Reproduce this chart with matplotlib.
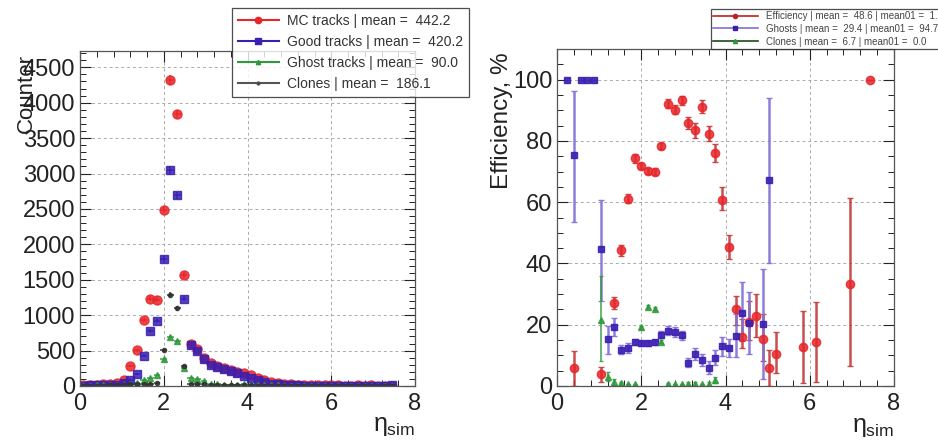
import numpy as np
import matplotlib
matplotlib.use('Agg')
import matplotlib.pyplot as plt
from matplotlib.lines import Line2D
from matplotlib.ticker import MultipleLocator

plt.rcParams['font.family'] = ['Liberation Sans', 'DejaVu Sans']
plt.rcParams['mathtext.fontset'] = 'custom'
plt.rcParams['mathtext.rm'] = 'Liberation Sans'
plt.rcParams['mathtext.it'] = 'Liberation Sans'

# Left panel: counts per eta bin (bin width 0.16)
eta_bins = [0.08, 0.24, 0.40, 0.56, 0.72, 0.88, 1.04, 1.20, 1.36, 1.52, 1.68, 1.84,
            2.00, 2.16, 2.32, 2.48, 2.64, 2.80, 2.96, 3.12, 3.28, 3.44, 3.60, 3.76,
            3.92, 4.08, 4.24, 4.40, 4.56, 4.72, 4.88, 5.04, 5.20, 5.36, 5.52, 5.68,
            5.84, 6.00, 6.16, 6.32, 6.48, 6.64, 6.80, 6.96, 7.12, 7.28, 7.44]
mc_tracks = [10, 12, 15, 25, 35, 45, 85, 285, 505, 935, 1235, 1215,
             2490, 4320, 3840, 1570, 600, 525, 400, 320, 280, 255, 220, 195,
             180, 160, 115, 85, 60, 40, 30, 25, 20, 15, 12, 10,
             12, 8, 10, 5, 3, 8, 6, 10, 5, 2, 3]
good_tracks = [5, 8, 10, 12, 15, 20, 45, 90, 170, 430, 780, 920,
               1790, 3050, 2690, 1230, 580, 500, 375, 300, 265, 245, 210, 180,
               140, 110, 80, 55, 35, 25, 15, 10, 8, 6, 5, 4,
               5, 3, 4, 2, 1, 3, 2, 4, 2, 1, 8]
ghost_tracks = [5, 6, 8, 8, 10, 12, 20, 25, 40, 80, 110, 150,
                375, 685, 630, 250, 115, 95, 65, 30, 25, 20, 15, 20,
                25, 20, 15, 15, 10, 8, 5, 3, 2, 1, 1, 1,
                0, 0, 0, 0, 0, 0, 0, 0, 0, 0, 0]
clone_tracks = [2, 3, 4, 5, 8, 10, 20, 25, 30, 35, 30, 40,
                505, 1290, 1095, 282, 30, 25, 25, 20, 20, 20, 20, 15,
                10, 8, 5, 4, 3, 2, 1, 1, 0, 0, 0, 0,
                0, 0, 0, 0, 0, 0, 0, 0, 0, 0, 0]
left_labels = ['MC tracks | mean =  442.2', 'Good tracks | mean =  420.2',
               'Ghost tracks | mean =  90.0', 'Clones | mean =  186.1']

# Right panel: efficiency / ghost / clone rates in %
eff_x = [0.40, 1.04, 1.36, 1.52, 1.68, 1.84, 2.00, 2.16, 2.32, 2.48, 2.64, 2.80,
         2.96, 3.12, 3.28, 3.44, 3.60, 3.76, 3.92, 4.08, 4.24, 4.40, 4.56, 4.72,
         4.88, 5.04, 5.20, 5.84, 6.16, 6.96, 7.44]
eff_y = [5.8, 3.8, 27.2, 44.3, 61.1, 74.3, 71.7, 70.3, 70.0, 78.4, 92.1, 90.2,
         93.2, 85.8, 83.4, 91.2, 82.4, 76.0, 60.8, 45.4, 25.0, 15.9, 20.9, 22.9,
         15.5, 5.8, 10.6, 12.6, 14.4, 33.4, 100.0]
eff_lo = [5.8, 2.5, 2.0, 1.8, 1.5, 1.5, 1.0, 1.0, 1.0, 1.0, 1.5, 1.5,
          1.5, 2.0, 2.5, 2.0, 2.5, 3.0, 3.5, 4.0, 5.0, 3.5, 6.0, 7.0,
          7.5, 5.8, 6.5, 11.5, 13.0, 27.0, 0.0]
eff_hi = [5.5, 2.5, 2.0, 1.8, 1.5, 1.5, 1.0, 1.0, 1.0, 1.0, 1.5, 1.5,
          1.5, 2.0, 2.5, 2.0, 2.5, 3.0, 4.0, 4.0, 4.5, 6.0, 7.0, 7.0,
          8.0, 6.0, 7.0, 12.0, 13.0, 28.0, 0.0]

ghost_x = [0.24, 0.40, 0.56, 0.72, 0.88, 1.04, 1.20, 1.36, 1.52, 1.68, 1.84, 2.00,
           2.16, 2.32, 2.48, 2.64, 2.80, 2.96, 3.12, 3.28, 3.44, 3.60, 3.76, 3.92,
           4.08, 4.24, 4.40, 4.56, 4.88, 5.04]
ghost_y = [100.0, 75.4, 100.0, 100.0, 100.0, 44.8, 15.5, 19.2, 11.9, 12.4, 14.3, 14.0,
           14.0, 14.3, 16.8, 18.0, 17.6, 16.6, 7.6, 10.4, 8.6, 6.0, 9.3, 12.9,
           12.4, 16.4, 23.8, 20.6, 20.3, 67.1]
ghost_lo = [0, 22, 0, 0, 0, 17, 5, 3, 1.5, 1.5, 1, 0.8,
            0.8, 0.8, 1.2, 1.5, 1.5, 1.5, 1.5, 2, 2, 2, 2.5, 3,
            3, 7, 9, 10, 18, 27]
ghost_hi = [0, 21, 0, 0, 0, 16, 4, 3, 1.5, 1.5, 1, 0.8,
            0.8, 0.8, 1.2, 1.5, 1.5, 1.5, 1.5, 2, 2, 2, 2.5, 3,
            3, 7, 10, 10, 18, 27]

clone_x = [1.04, 1.20, 1.36, 1.52, 1.68, 1.84, 2.00, 2.16, 2.32, 2.48, 2.64, 2.80,
           2.96, 3.12, 3.28, 3.44, 3.60, 3.76]
clone_y = [21.5, 3.0, 1.2, 0.9, 0.5, 0.5, 19.1, 25.8, 25.2, 14.5, 0.6, 0.5,
           0.5, 0.8, 0.8, 0.5, 0.7, 2.0]
clone_lo = [13.5, 1.5, 1.0, 0.5, 0.3, 0.3, 0.5, 0.5, 0.5, 0.5, 0.3, 0.3,
            0.3, 0.5, 0.5, 0.3, 0.5, 1.0]
clone_hi = [14.5, 1.5, 1.0, 0.5, 0.3, 0.3, 0.5, 0.5, 0.5, 0.5, 0.3, 0.3,
            0.3, 0.5, 0.5, 0.3, 0.5, 1.0]
right_labels = ['Efficiency | mean =  48.6 | mean01 =  1.2',
                'Ghosts | mean =  29.4 | mean01 =  94.7',
                'Clones | mean =  6.7 | mean01 =  0.0']

red = '#e8262a'
blue = '#3a1fb0'
lblue = '#8070d8'
green = '#2f9a3a'
dark = '#303030'

fig = plt.figure(figsize=(9.38, 4.46), dpi=100)
W, H = 938, 446
ax1 = fig.add_axes([80 / W, 1 - 386 / H, 335 / W, 335 / H])
ax2 = fig.add_axes([557 / W, 1 - 386 / H, 337 / W, 337 / H])


def root_style(ax, ymax, ymajor, yminor):
    ax.set_xlim(0, 8)
    ax.set_ylim(0, ymax)
    ax.xaxis.set_major_locator(MultipleLocator(2))
    ax.xaxis.set_minor_locator(MultipleLocator(0.4))
    ax.yaxis.set_major_locator(MultipleLocator(ymajor))
    ax.yaxis.set_minor_locator(MultipleLocator(yminor))
    ax.tick_params(which='both', direction='in', top=True, right=True,
                   labelsize=17, colors='#222222')
    ax.tick_params(axis='x', pad=5)
    ax.tick_params(which='major', length=8, width=0.8)
    ax.tick_params(which='minor', length=4, width=0.7)
    ax.grid(True, which='major', linestyle=(0, (3, 3)), color='#aaaaaa', linewidth=0.7)
    for s in ax.spines.values():
        s.set_color('#555555')
        s.set_linewidth(0.9)
    ax.set_axisbelow(True)


def axis_labels(ax, ylabel, yx, ysize):
    ax.set_ylabel(ylabel, fontsize=ysize, color='#222222')
    ax.yaxis.set_label_coords(yx, 0.99)
    ax.yaxis.label.set_ha('right')
    ax.set_xlabel(r'$\eta_{\rm sim}$', fontsize=18, color='#222222')
    ax.xaxis.set_label_coords(1.0, -0.085)
    ax.xaxis.label.set_ha('right')
    ax.xaxis.label.set_va('top')


root_style(ax1, 4730, 500, 100)
root_style(ax2, 110, 20, 5)

x = np.array(eta_bins)
series = [(mc_tracks, red, 'o', 6.5), (good_tracks, blue, 's', 5.5),
          (ghost_tracks, green, '^', 4.5), (clone_tracks, dark, 'o', 3)]
for vals, c, m, ms in series:
    v = np.array(vals, dtype=float)
    ax1.errorbar(x, v, xerr=0.08, yerr=np.sqrt(v), fmt=m, color=c, ms=ms,
                 elinewidth=1.2, capsize=0, mec=c, alpha=0.85)

axis_labels(ax1, 'Counter', -0.128, 16)

ax2.errorbar(eff_x, eff_y, yerr=[eff_lo, eff_hi], fmt='o', color=red, ecolor='#c03030',
             ms=6, elinewidth=1.8, capsize=2.5, capthick=1, alpha=0.85)
ax2.errorbar(ghost_x, ghost_y, yerr=[ghost_lo, ghost_hi], fmt='s', color=blue, ecolor=lblue,
             ms=5, elinewidth=1.8, capsize=2.5, capthick=1, mec=blue, alpha=0.9)
ax2.errorbar(clone_x, clone_y, yerr=[clone_lo, clone_hi], fmt='^', color=green, ecolor=green,
             ms=4, elinewidth=1.2, capsize=1.5, capthick=1, alpha=0.85)

axis_labels(ax2, 'Efficiency, %', -0.13, 17.5)

# legends
lh = [Line2D([], [], color=c, marker=m, ms=ms * 0.7, lw=1.5)
      for (_, c, m, ms) in series]
lh[3].set_color('#555555')
lh[3].set_markerfacecolor(dark)
leg1 = fig.legend(lh, left_labels, loc='upper left', bbox_to_anchor=(232 / W, 1 - 8 / H),
                  fontsize=10, frameon=True, fancybox=False, handlelength=2.9,
                  labelspacing=0.5, borderpad=0.45, handletextpad=0.6, borderaxespad=0)
leg1.get_frame().set_edgecolor('#222222')
leg1.get_frame().set_linewidth(0.9)
for t in leg1.get_texts():
    t.set_color('#333333')

rh = [Line2D([], [], color='#c02020', marker='o', ms=3, lw=1.2),
      Line2D([], [], color=lblue, marker='s', ms=3, mfc=blue, mec=blue, lw=1.2),
      Line2D([], [], color='#1c4a1c', marker='^', ms=3, mfc=green, mec=green, lw=1.2)]
leg2 = fig.legend(rh, right_labels, loc='upper left', bbox_to_anchor=(711 / W, 1 - 9 / H),
                  fontsize=7, frameon=True, fancybox=False, handlelength=4.6,
                  labelspacing=0.3, borderpad=0.2, handletextpad=0.9, borderaxespad=0)
leg2.get_frame().set_edgecolor('#222222')
leg2.get_frame().set_linewidth(0.9)
for t in leg2.get_texts():
    t.set_color('#444444')

fig.savefig('out.png', dpi=100)
